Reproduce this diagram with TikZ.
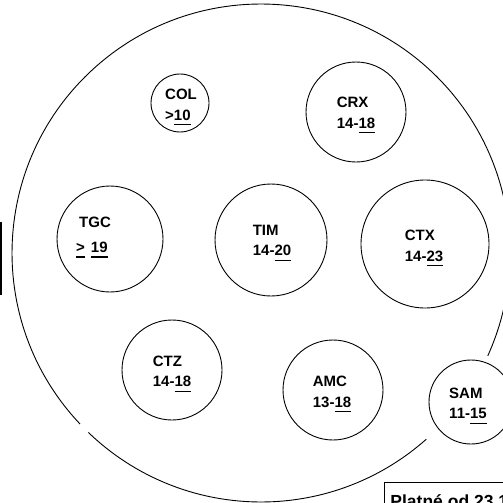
\documentclass[tikz,border=0pt]{standalone}
\usepackage{fontspec}
\setmainfont{Liberation Sans}
\newcommand\stopfont{\fontsize{15}{20.5}\selectfont\bfseries}
\newcommand\stopul[1]{\setbox0\hbox{#1}\rlap{\rule[-5pt]{\wd0}{1.4pt}}\box0}
\tikzset{
stop/.style={draw,circle,inner sep=0pt},
stop label/.style={align=left,inner sep=0pt,font=\stopfont},
}
\begin{document}
\begin{tikzpicture}[x=1pt,y=-1pt,line width=0.9pt]
\useasboundingbox (0,0) rectangle (503,503);
\clip (0,0) rectangle (503,503);
% outer ring, broken at two places
\coordinate (hall) at (261,253);
\draw (hall) ++(48.4:249) arc[start angle=48.4,end angle=133.9,radius=249];
\draw (hall) ++(136.6:249) arc[start angle=136.6,end angle=384.4,radius=249];
\draw[line width=1.5pt] (1,222) -- (1,295);
% stations
\node[stop,minimum size=58]  (col) at (180,103) {};
\node[stop,minimum size=100] (crx) at (356,112) {};
\node[stop,minimum size=106] (tgc) at (110,239) {};
\node[stop,minimum size=112] (tim) at (271,240) {};
\node[stop,minimum size=128] (ctx) at (425,244) {};
\node[stop,minimum size=100] (ctz) at (172,370) {};
\node[stop,minimum size=100] (amc) at (333,390) {};
\node[stop,minimum size=84]  (sam) at (471,402) {};
\node[stop label] (col label) at (181,107.5) {COL\\>\stopul{10}};
\node[stop label] (crx label) at (356,115.5) {CRX\\14-\stopul{18}};
\node[stop label] (tgc label) at (93.5,237.5) {\hspace*{3pt}TGC\\[4.5pt]\stopul{>}\hspace{6pt}\stopul{19}};
\node[stop label] (tim label) at (272,243) {TIM\\14-\stopul{20}};
\node[stop label] (ctx label) at (424,248.5) {CTX\\14-\stopul{23}};
\node[stop label] (ctz label) at (172,374) {CTZ\\14-\stopul{18}};
\node[stop label] (amc label) at (332,394.5) {AMC\\13-\stopul{18}};
\node[stop label] (sam label) at (468,406) {SAM\\11-\stopul{15}};
% validity box
\draw (384,482) rectangle (560,560);
\node[anchor=base west,inner sep=0pt,font=\fontsize{17.5}{21}\selectfont\bfseries] (valid) at (390,507.5) {Platné od 23.1};
\end{tikzpicture}
\end{document}
